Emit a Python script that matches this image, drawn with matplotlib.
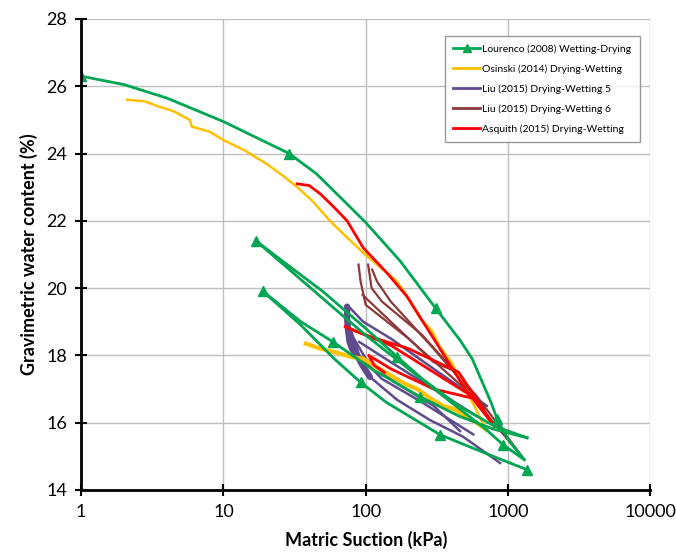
import matplotlib.pyplot as plt

plt.rcParams['font.family'] = ['Lato', 'DejaVu Sans']

# Lourenco (2008) wetting-drying paths (suction kPa, water content %)
lour_main_x = [1, 2, 4, 10, 29, 45, 70, 100, 175, 310, 460, 560, 660, 760, 840, 1000, 1300]
lour_main_y = [26.3, 26.05, 25.65, 24.95, 24.0, 23.4, 22.6, 21.95, 20.8, 19.4, 18.45, 17.9, 17.2, 16.6,
               16.1, 15.5, 14.9]
lour_main_m = [0, 4, 9, 14]
lour_wet1_x = [1362, 900, 600, 333, 220, 140, 92, 60, 35, 19]
lour_wet1_y = [14.6, 14.9, 15.2, 15.64, 16.1, 16.6, 17.2, 17.9, 18.9, 19.9]
lour_wet1_m = [0, 3, 6, 9]
lour_dry2_x = [19, 35, 59, 110, 241, 450, 800, 1362]
lour_dry2_y = [19.9, 19.0, 18.4, 17.6, 16.77, 16.2, 15.8, 15.55]
lour_dry2_m = [2, 4]
lour_wet2_x = [1362, 800, 450, 250, 166, 100, 50, 28, 17]
lour_wet2_y = [15.55, 15.9, 16.5, 17.3, 17.96, 18.8, 19.9, 20.7, 21.4]
lour_wet2_m = [4, 8]
lour_dry3_x = [17, 30, 60, 100, 200, 400, 700, 925, 1300]
lour_dry3_y = [21.4, 20.5, 19.4, 18.6, 17.6, 16.6, 15.8, 15.34, 14.9]
lour_dry3_m = [7]

# Osinski (2014)
osi_dry_x = [2.1, 2.8, 3.5, 4.5, 5.8, 6.0, 8, 10, 14, 20, 26, 33, 42, 56, 70, 96, 120, 166, 200,
             241, 290, 333, 400, 484, 580, 700]
osi_dry_y = [25.6, 25.55, 25.4, 25.25, 25.0, 24.8, 24.65, 24.4, 24.1, 23.7, 23.35, 23.0, 22.6, 22.0,
             21.6, 21.05, 20.7, 20.2, 19.7, 19.1, 18.75, 18.25, 17.8, 17.1, 16.5, 15.8]
osi_wet_x = [700, 600, 500, 420, 350, 290, 230, 190, 150, 120, 96, 80, 60, 48, 38]
osi_wet_y = [15.8, 16.0, 16.2, 16.4, 16.5, 16.7, 17.0, 17.15, 17.4, 17.65, 17.9, 17.95, 18.1, 18.2, 18.35]

# Liu (2015) Drying-Wetting 5
liu5_trunk_x = [74, 74, 75, 77, 80, 87, 95, 107]
liu5_trunk_y = [19.45, 19.1, 18.76, 18.4, 18.2, 18.0, 17.7, 17.36]
liu5 = [
    ([74, 75, 87, 107, 166, 282, 484, 880], [19.45, 18.76, 18.08, 17.36, 16.68, 16.08, 15.58, 14.8]),
    ([75, 90, 130, 250, 570], [19.0, 18.0, 17.3, 16.6, 15.65]),
    ([80, 100, 160, 300, 460], [18.6, 17.9, 17.2, 16.5, 15.75]),
    ([78, 96, 150, 300, 710], [19.4, 19.0, 18.5, 17.6, 16.5]),
    ([90, 150, 300, 600], [18.4, 17.8, 17.0, 16.2]),
]

# Liu (2015) Drying-Wetting 6
liu6 = [
    ([89, 92, 100, 200, 500, 1250], [20.7, 20.2, 19.5, 18.5, 17.0, 15.0]),
    ([104, 110, 130, 250, 600, 1250], [20.7, 20.0, 19.6, 18.6, 16.8, 15.0]),
    ([111, 120, 150, 300, 700], [20.55, 20.2, 19.6, 18.2, 16.4]),
    ([95, 150, 300, 440], [19.8, 19.0, 17.8, 17.5]),
]

# Asquith (2015)
asq = [
    ([33, 40, 48, 60, 74, 96, 141, 195, 300, 500, 800],
     [23.1, 23.05, 22.8, 22.4, 22.0, 21.2, 20.45, 19.75, 18.5, 17.0, 15.9]),
    ([800, 450, 200, 100, 72], [15.9, 17.5, 18.2, 18.6, 18.85]),
    ([72, 150, 300, 600], [18.85, 18.3, 17.5, 16.7]),
    ([600, 300, 150, 105, 115, 135], [16.7, 17.0, 17.6, 18.0, 17.7, 17.5]),
]

green = '#00A651'
yellow = '#FFC000'
purple = '#5F4B8B'
brown = '#8B3A3A'
red = '#FF0000'

fig = plt.figure(figsize=(6.76, 5.58), dpi=100)
ax = fig.add_axes([0.12, 0.122, 0.842, 0.844])

for xs, ys in liu5:
    ax.plot(xs, ys, color=purple, lw=1.8)
ax.plot(liu5_trunk_x, liu5_trunk_y, color=purple, lw=4.5, solid_capstyle='round')
for xs, ys in liu6:
    ax.plot(xs, ys, color=brown, lw=1.6)
ax.plot(osi_dry_x, osi_dry_y, color=yellow, lw=1.8)
ax.plot(osi_wet_x, osi_wet_y, color=yellow, lw=3)
for xs, ys in asq:
    ax.plot(xs, ys, color=red, lw=2)

for xs, ys, mk in [(lour_main_x, lour_main_y, lour_main_m),
                   (lour_wet1_x, lour_wet1_y, lour_wet1_m),
                   (lour_dry2_x, lour_dry2_y, lour_dry2_m),
                   (lour_wet2_x, lour_wet2_y, lour_wet2_m),
                   (lour_dry3_x, lour_dry3_y, lour_dry3_m)]:
    ax.plot(xs, ys, color=green, lw=2, marker='^', markersize=7, markevery=mk)

# legend handles
h = [
    plt.Line2D([], [], color=green, lw=2, marker='^', markersize=6),
    plt.Line2D([], [], color=yellow, lw=2),
    plt.Line2D([], [], color=purple, lw=2),
    plt.Line2D([], [], color=brown, lw=2),
    plt.Line2D([], [], color=red, lw=2),
]
labels = ['Lourenco (2008) Wetting-Drying', 'Osinski (2014) Drying-Wetting',
          'Liu (2015) Drying-Wetting 5', 'Liu (2015) Drying-Wetting 6',
          'Asquith (2015) Drying-Wetting']
leg = ax.legend(h, labels, loc='upper left', bbox_to_anchor=(0.63, 0.975),
                fontsize=7.5, frameon=True, fancybox=False, handlelength=2.6,
                borderpad=0.8, labelspacing=1.0, handletextpad=0.2)
leg.get_frame().set_edgecolor('#808080')
leg.get_frame().set_linewidth(1)

ax.set_xscale('log')
ax.set_xlim(1, 10000)
ax.set_ylim(14, 28)
ax.set_yticks(range(14, 29, 2))
ax.set_xticks([1, 10, 100, 1000, 10000])
ax.set_xticklabels(['1', '10', '100', '1000', '10000'])
ax.minorticks_off()
ax.grid(True, color='#BEBEBE', lw=1)
ax.set_axisbelow(True)
for s in ['top', 'right']:
    ax.spines[s].set_visible(False)
for s in ['left', 'bottom']:
    ax.spines[s].set_linewidth(2)
ax.tick_params(direction='inout', length=8, width=1.5, labelsize=13, pad=6)
ax.set_xlabel('Matric Suction (kPa)', fontsize=13, fontweight='bold', labelpad=8)
ax.set_ylabel('Gravimetric water content (%)', fontsize=13, fontweight='bold', labelpad=6)

fig.savefig('out.png', dpi=100)
